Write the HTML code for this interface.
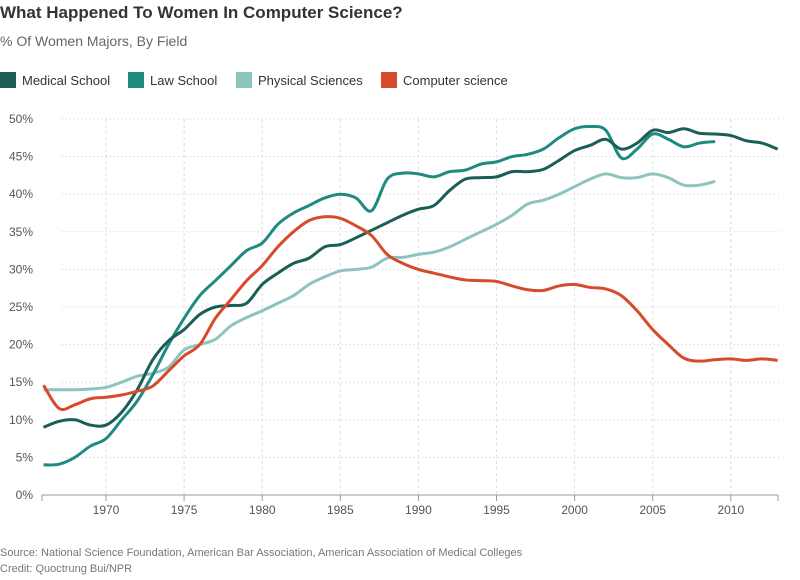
<!DOCTYPE html>
<html><head><meta charset="utf-8"><style>
body{margin:0;background:#fff;font-family:"Liberation Sans",sans-serif;}
#c{position:relative;width:800px;height:580px;overflow:hidden}
</style></head><body><div id="c">
<svg id="s" width="800" height="580" xmlns="http://www.w3.org/2000/svg" font-family="Liberation Sans, sans-serif">
<text x="0" y="18" font-size="17" font-weight="bold" fill="#333">What Happened To Women In Computer Science?</text>
<text x="0" y="46" font-size="14" fill="#666">% Of Women Majors, By Field</text>
<rect x="0" y="72" width="16" height="16" fill="#1b5e55"/><text x="22" y="85" font-size="13" fill="#333">Medical School</text>
<rect x="128" y="72" width="16" height="16" fill="#1f8a80"/><text x="150" y="85" font-size="13" fill="#333">Law School</text>
<rect x="236" y="72" width="16" height="16" fill="#8ec4bf"/><text x="258" y="85" font-size="13" fill="#333">Physical Sciences</text>
<rect x="381" y="72" width="16" height="16" fill="#d84a2c"/><text x="403" y="85" font-size="13" fill="#333">Computer science</text>
<g id="grid"></g>
<g id="lines" fill="none" stroke-width="3"></g>
<text x="0" y="556" font-size="11" fill="#777">Source: National Science Foundation, American Bar Association, American Association of Medical Colleges</text>
<text x="0" y="572" font-size="11" fill="#777">Credit: Quoctrung Bui/NPR</text>
</svg></div>
<script>
var X=function(y){return 106+(y-1970)*15.62},Y=function(p){return 495-7.52*p};
var g=document.getElementById('grid'),h='';
for(var p=5;p<=50;p+=5){h+='<line x1="62" x2="780" y1="'+Y(p)+'" y2="'+Y(p)+'" stroke="#ccc" stroke-dasharray="1,3"/>';}
for(var p=0;p<=50;p+=5){h+='<text x="33" y="'+(Y(p)+4)+'" font-size="12" fill="#555" text-anchor="end">'+p+'%</text>';}
for(var yr=1970;yr<=2010;yr+=5){h+='<line x1="'+X(yr)+'" x2="'+X(yr)+'" y1="119" y2="495" stroke="#ddd" stroke-dasharray="3,3"/><line x1="'+X(yr)+'" x2="'+X(yr)+'" y1="495" y2="501" stroke="#999"/><text x="'+X(yr)+'" y="514" font-size="12" fill="#555" text-anchor="middle">'+yr+'</text>';}
h+='<line x1="42" x2="778" y1="495" y2="495" stroke="#999"/><line x1="42" x2="42" y1="495" y2="501" stroke="#999"/><line x1="778" x2="778" y1="495" y2="501" stroke="#999"/>';
g.innerHTML=h;
var D={
"#8ec4bf":[14,14,14,14.1,14.3,15,15.8,16.2,17,19.3,20,20.7,22.5,23.6,24.5,25.5,26.5,28,29,29.8,30,30.3,31.5,31.6,32,32.3,33,34,35,36,37.2,38.7,39.2,40,41,42,42.7,42.2,42.2,42.7,42.2,41.2,41.2,41.7],
"#1f8a80":[4,4.1,5,6.5,7.5,10,12.5,16,20,23.5,26.5,28.5,30.5,32.5,33.5,36,37.5,38.5,39.5,40,39.5,37.8,42,42.8,42.7,42.3,43,43.2,44,44.3,45,45.3,46,47.5,48.7,49,48.5,44.8,46,48,47.3,46.3,46.8,47],
"#1b5e55":[9,9.8,10,9.3,9.3,11,14,18,20.5,22,24,25,25.2,25.5,28,29.5,30.8,31.5,33,33.3,34.2,35.2,36.2,37.2,38,38.5,40.5,42,42.2,42.3,43,43,43.3,44.5,45.8,46.5,47.3,46,46.8,48.5,48.2,48.7,48.1,48,47.8,47.1,46.8,46],
"#d84a2c":[14.6,11.5,12,12.8,13,13.3,13.8,14.5,16.5,18.5,20,23.5,26,28.5,30.5,33,35,36.5,37,36.8,35.8,34.5,32,30.8,30,29.5,29,28.6,28.5,28.4,27.8,27.3,27.2,27.8,28,27.6,27.4,26.5,24.5,22,20,18.2,17.8,18,18.1,17.9,18.1,17.9]};
var L='';
for(var c in D){var a=D[c],pts=a.map(function(v,i){return [X(1966+i),Y(v)]});
var d='M'+pts[0][0]+','+pts[0][1];
for(var i=0;i<pts.length-1;i++){var p0=pts[i-1]||pts[i],p1=pts[i],p2=pts[i+1],p3=pts[i+2]||p2;
d+='C'+(p1[0]+(p2[0]-p0[0])/6)+','+(p1[1]+(p2[1]-p0[1])/6)+' '+(p2[0]-(p3[0]-p1[0])/6)+','+(p2[1]-(p3[1]-p1[1])/6)+' '+p2[0]+','+p2[1];}
L+='<path d="'+d+'" stroke="'+c+'"/>';}
document.getElementById('lines').innerHTML=L;
</script></body></html>
